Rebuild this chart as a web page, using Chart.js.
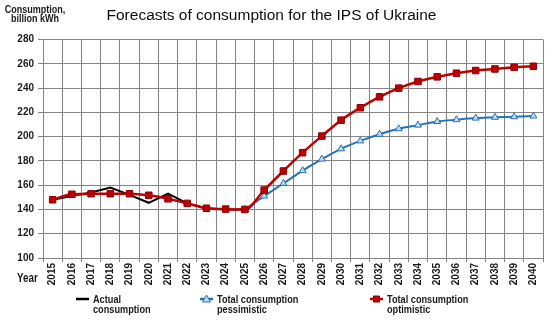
<!DOCTYPE html>
<html>
<head>
<meta charset="utf-8">
<script src="https://cdn.jsdelivr.net/npm/chart.js@4/dist/chart.umd.min.js"></script>
<style>
  html, body { margin: 0; padding: 0; background: #fff; }
  #wrap { position: relative; width: 550px; height: 323px; }
</style>
</head>
<body>
<div id="wrap"><canvas id="chart" width="550" height="323"></canvas></div>
<script>
const years = ['2015','2016','2017','2018','2019','2020','2021','2022','2023','2024','2025','2026','2027',
  '2028','2029','2030','2031','2032','2033','2034','2035','2036','2037','2038','2039','2040']

const actual = [148, 151, 154, 158, 152, 145.5, 153, 145, 141, 140, 140,
  null, null, null, null, null, null, null, null, null, null, null, null, null, null, null]

const pessimistic = [null, null, null, null, null, null, null, null, null, null, 140,
  151, 161.5, 172, 181.5, 190, 196.5, 202, 206.5, 209.5, 212.5, 214, 215.3, 216, 216.4, 217]

const optimistic = [148, 152.5, 153, 153, 153, 151.7, 148.8, 145, 141, 140.3, 140,
  156, 171.7, 186.8, 200.5, 213.6, 223.8, 232.8, 240, 245.5, 249.3, 252.3, 254.5, 255.8, 257.2, 258]

const yTicks = { min: 100, max: 280, step: 20 }

const baseFont = '"Liberation Sans", Arial, sans-serif'

// narrow bold text: no narrow face installed, so squeeze horizontally
function narrowText(c, text, x, y, size, align) {
  const k = 0.82
  c.save()
  c.font = 'bold ' + size + 'px ' + baseFont
  c.textAlign = align
  c.textBaseline = 'middle'
  c.translate(x, y)
  c.scale(k, 1)
  c.fillText(text, 0, 0)
  c.restore()
}

// axis captions + two-line legend drawn on the canvas
const extras = {
  id: 'extras',
  afterDraw(chart) {
    const c = chart.ctx
    c.save()
    c.fillStyle = '#1a1a1a'
    narrowText(c, 'Consumption,', 35, 10, 11, 'center')
    narrowText(c, 'billion kWh', 35, 19, 11, 'center')
    narrowText(c, 'Year', 17, 279, 12, 'left')

    const items = [
      { x: 76, ds: chart.data.datasets[0] },
      { x: 200, ds: chart.data.datasets[1] },
      { x: 370, ds: chart.data.datasets[2] }
    ]
    items.forEach(it => {
      const ds = it.ds
      const ly = 299
      c.strokeStyle = ds.borderColor
      c.lineWidth = 2.5
      c.beginPath()
      c.moveTo(it.x, ly)
      c.lineTo(it.x + 13, ly)
      c.stroke()
      if (ds.pointRadius > 0) {
        c.fillStyle = ds.pointBackgroundColor
        c.strokeStyle = ds.pointBorderColor
        c.lineWidth = 1
        c.beginPath()
        if (ds.pointStyle === 'rect') {
          c.rect(it.x + 3.5, ly - 3, 6, 6)
        } else {
          c.moveTo(it.x + 6.5, ly - 4)
          c.lineTo(it.x + 10.5, ly + 3)
          c.lineTo(it.x + 2.5, ly + 3)
          c.closePath()
        }
        c.fill()
        c.stroke()
      }
      c.fillStyle = '#1a1a1a'
      ds.label.split('\n').forEach((t, i) => {
        narrowText(c, t, it.x + 17, ly + 0.5 + i * 10.5, 11.2, 'left')
      })
    })
    c.restore()
  }
}

window.onload = () => {
  const ctx = document.getElementById('chart')

  new Chart(ctx, {
    type: 'line',
    data: {
      labels: years,
      datasets: [
        {
          label: 'Actual\nconsumption',
          data: actual,
          borderColor: '#000000',
          borderWidth: 2,
          pointRadius: 0,
          tension: 0,
          order: 3
        },
        {
          label: 'Total consumption\npessimistic',
          data: pessimistic,
          borderColor: '#2472b8',
          borderWidth: 2,
          pointStyle: 'triangle',
          pointRadius: 4,
          pointBackgroundColor: '#c6d9ee',
          pointBorderColor: '#2472b8',
          pointBorderWidth: 1,
          cubicInterpolationMode: 'monotone',
          order: 2
        },
        {
          label: 'Total consumption\noptimistic',
          data: optimistic,
          borderColor: '#c00000',
          borderWidth: 2.5,
          pointStyle: 'rect',
          pointRadius: 4.6,
          pointBackgroundColor: '#c00000',
          pointBorderColor: '#8a0000',
          pointBorderWidth: 1,
          cubicInterpolationMode: 'monotone',
          order: 1
        }
      ]
    },
    options: {
      responsive: false,
      animation: false,
      layout: { padding: { left: 0, right: 7, top: 0, bottom: 0 } },
      plugins: {
        legend: { display: false },
        tooltip: { enabled: false },
        title: {
          display: true,
          text: 'Forecasts of consumption for the IPS of Ukraine',
          color: '#0d0d0d',
          font: { family: baseFont, size: 15.5, weight: 'normal', lineHeight: 1.2 },
          padding: { top: 6, bottom: 15 }
        }
      },
      scales: {
        x: {
          offset: true,
          afterFit(scale) { scale.height = 65 },
          grid: { offset: true, color: '#858585', lineWidth: 1, tickLength: 4 },
          border: { color: '#858585' },
          ticks: {
            autoSkip: false,
            minRotation: 90,
            maxRotation: 90,
            padding: 1,
            color: '#1a1a1a',
            font: { family: baseFont, size: 10, weight: 'bold' }
          }
        },
        y: {
          min: yTicks.min,
          max: yTicks.max,
          afterFit(scale) { scale.width = 43 },
          grid: { color: '#858585', lineWidth: 1, tickLength: 5 },
          border: { color: '#858585' },
          ticks: {
            stepSize: yTicks.step,
            padding: 4,
            color: '#1a1a1a',
            font: { family: baseFont, size: 10, weight: 'bold' }
          }
        }
      }
    },
    plugins: [extras]
  })
}
</script>
</body>
</html>
